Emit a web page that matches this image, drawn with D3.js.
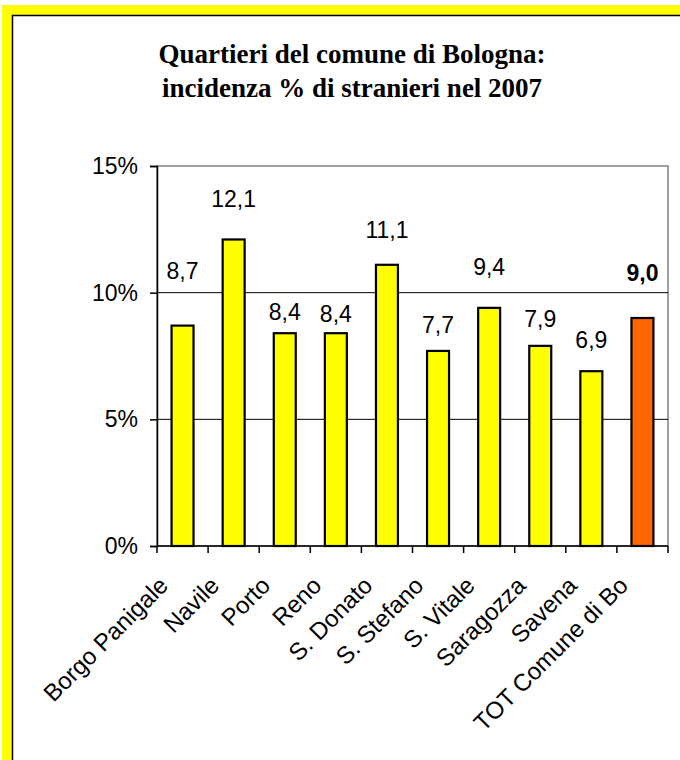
<!DOCTYPE html>
<html><head><meta charset="utf-8">
<script src="https://cdn.jsdelivr.net/npm/d3@7"></script>
<style>body{margin:0;background:#fff}svg{display:block}</style>
</head><body>
<script>
const categories = ["Borgo Panigale","Navile","Porto","Reno","S. Donato","S. Stefano","S. Vitale","Saragozza","Savena","TOT Comune di Bo"];
const values = [8.7,12.1,8.4,8.4,11.1,7.7,9.4,7.9,6.9,9.0];
const valueLabels = ["8,7","12,1","8,4","8,4","11,1","7,7","9,4","7,9","6,9","9,0"];
const labelOffsets = [47,32,13,11,27,18,33,19,23,37];
const yTicks = [0,5,10,15];
const yTickLabels = ["0%","5%","10%","15%"];
const titleLines = ["Quartieri del comune di Bologna:","incidenza % di stranieri nel 2007"];

const W=680,H=760;
const svg=d3.select("body").append("svg").attr("width",W).attr("height",H);
// frame
svg.append("rect").attr("x",2).attr("y",5).attr("width",W).attr("height",H).attr("fill","#ffff00");
svg.append("rect").attr("x",12.5).attr("y",15.5).attr("width",W).attr("height",H).attr("fill","#fff").attr("stroke","#000").attr("stroke-width",1.5);

const title=svg.append("text").attr("font-family","'Liberation Serif','Times New Roman',serif").attr("font-weight","bold").attr("font-size",27).attr("text-anchor","middle");
titleLines.forEach((t,i)=>title.append("tspan").attr("x",352).attr("y",63+i*34).text(t));

const x=d3.scaleBand().domain(categories).range([157,668]).paddingInner(0.57).paddingOuter(0.285);
const y=d3.scaleLinear().domain([0,15]).range([546,166]);

// plot border
svg.append("rect").attr("x",157).attr("y",166).attr("width",511).attr("height",380).attr("fill","none").attr("stroke","#808080").attr("stroke-width",1.5);
// gridlines
svg.append("g").selectAll("line").data(yTicks.filter(d=>d>0&&d<15)).join("line")
 .attr("x1",157).attr("x2",668).attr("y1",d=>y(d)).attr("y2",d=>y(d)).attr("stroke","#000").attr("stroke-width",1);

// bars
svg.append("g").selectAll("rect").data(values).join("rect")
 .attr("x",(d,i)=>x(categories[i])).attr("width",x.bandwidth())
 .attr("y",d=>y(d)).attr("height",d=>y(0)-y(d))
 .attr("fill",(d,i)=>i===values.length-1?"#ff6600":"#ffff00")
 .attr("stroke","#000").attr("stroke-width",2.2);

// value labels
svg.append("g").selectAll("text").data(values).join("text")
 .attr("x",(d,i)=>x(categories[i])+x.bandwidth()/2)
 .attr("y",(d,i)=>y(d)-labelOffsets[i])
 .attr("text-anchor","middle").attr("font-family","'Liberation Sans',Arial,sans-serif").attr("font-size",23)
 .attr("font-weight",(d,i)=>i===values.length-1?"bold":"normal")
 .text((d,i)=>valueLabels[i]);

// y axis
const yAxis=d3.axisLeft(y).tickValues(yTicks).tickFormat((d,i)=>yTickLabels[i]).tickSize(7).tickPadding(12);
const ga=svg.append("g").attr("transform","translate(157,0)").call(yAxis);
ga.select(".domain").attr("stroke","#000").attr("stroke-width",1.5);
ga.selectAll(".tick line").attr("stroke","#000").attr("stroke-width",1.5);
ga.selectAll(".tick text").attr("font-family","'Liberation Sans',Arial,sans-serif").attr("font-size",23).attr("fill","#000");

// x axis
const step=x.step();
const xb=svg.append("g");
xb.append("line").attr("x1",157).attr("x2",668).attr("y1",546).attr("y2",546).attr("stroke","#000").attr("stroke-width",1.5);
xb.selectAll("line.t").data(d3.range(categories.length+1)).join("line").attr("class","t")
 .attr("x1",i=>157+i*step).attr("x2",i=>157+i*step).attr("y1",546).attr("y2",553).attr("stroke","#000").attr("stroke-width",1.5);
xb.selectAll("text").data(categories).join("text")
 .attr("transform",d=>`translate(${x(d)+x.bandwidth()/2-13},${587}) rotate(-45)`)
 .attr("text-anchor","end")
 .attr("font-family","'Liberation Sans',Arial,sans-serif").attr("font-size",24)
 .text(d=>d);
</script>
</body></html>
